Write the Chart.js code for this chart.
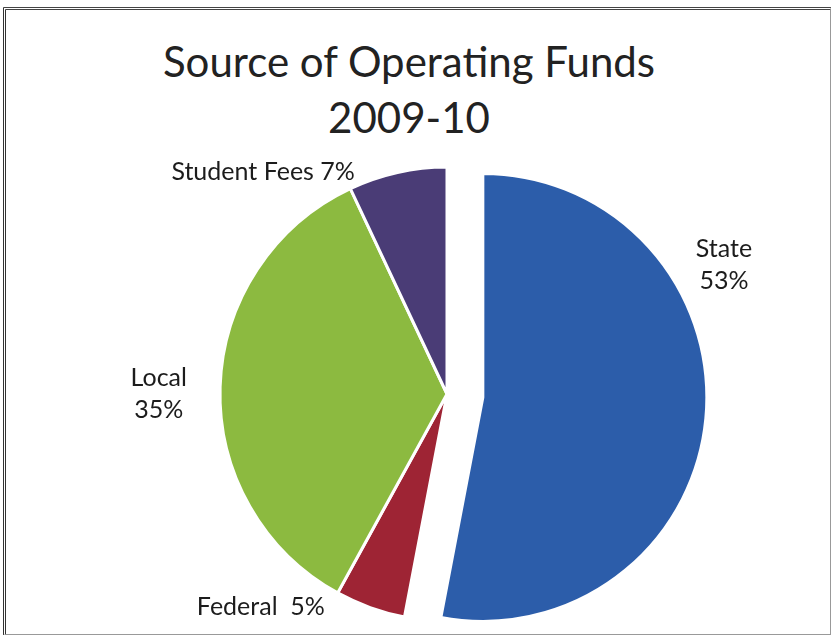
<!DOCTYPE html>
<html>
<head>
<meta charset="utf-8">
<script src="https://cdn.jsdelivr.net/npm/chart.js@4.4.1/dist/chart.umd.min.js"></script>
<style>
  html, body { margin: 0; padding: 0; background: #fff; }
  #wrap { position: relative; width: 833px; height: 639px; overflow: hidden; }
  #frame { position: absolute; left: 3px; top: 7px; width: 824px; height: 624px;
           border-left: 3px double #333; border-top: 3px double #444; border-right: 1px solid #999;
           border-bottom: 1px solid #999; }
  #title { position: absolute; left: 0; width: 818px; top: 33px; text-align: center;
           font-family: Lato, "Open Sans", sans-serif; font-size: 42px; line-height: 56px; color: #222; }
  canvas { position: absolute; left: 0; top: 0; }
</style>
</head>
<body>
<div id="wrap">
  <div id="frame"></div>
  <div id="title">Source of Operating Funds<br>2009-10</div>
  <canvas id="c" width="833" height="639"></canvas>
</div>
<script>
// 資料：百分比，從 12 點鐘方向順時針
const LABELS = ['State', 'Federal', 'Local', 'Student Fees']
const VALUES = [53, 5, 35, 7]
const COLORS = ['#2C5DAA', '#9E2434', '#8CBA40', '#4A3C76']

// State 往外拉的距離 (px)，拉出去的扇形在原圖裡半徑略小
const EXPLODE = 36
const PIE_RADIUS = 227
const STATE_RADIUS = 224

// 標籤位置（以圓心為原點、半徑為單位），跟 Excel 的 best fit 位置對齊
const LABEL_ANCHORS = [
  { dx: 1.22, dy: -0.57, lines: ['State', '53%'] },
  { dx: -0.82, dy: 0.94, lines: ['Federal  5%'] },
  { dx: -1.27, dy: 0.0, lines: ['Local', '35%'] },
  { dx: -0.81, dy: -0.98, lines: ['Student Fees 7%'] },
]

// v4 的 offset 會把 >=180° 的扇形放大又縮角度，所以不用它，
// 直接沿著扇形中線把 State 的圓心往外推
const explodeState = {
  id: 'explodeState',
  beforeDatasetsDraw(chart) {
    const meta = chart.getDatasetMeta(0)
    const arc = meta.data[0]
    const ref = meta.data[1]
    if (!arc || !ref) return
    const mid = (arc.startAngle + arc.endAngle) / 2
    arc.x = ref.x + Math.cos(mid) * EXPLODE
    arc.y = ref.y + Math.sin(mid) * EXPLODE
    arc.outerRadius = STATE_RADIUS
  },
}

const outsideLabels = {
  id: 'outsideLabels',
  afterDatasetsDraw(chart) {
    const meta = chart.getDatasetMeta(0)
    const arc = meta.data[1]
    if (!arc) return
    const { x, y } = arc
    const outerRadius = meta.controller.outerRadius
    const ctx = chart.ctx
    ctx.save()
    ctx.font = '25px Lato, "Open Sans", sans-serif'
    ctx.fillStyle = '#1c1c1c'
    ctx.textAlign = 'center'
    ctx.textBaseline = 'middle'
    LABEL_ANCHORS.forEach(a => {
      const cx = x + a.dx * outerRadius
      const cy = y + a.dy * outerRadius
      const lh = 32
      a.lines.forEach((t, i) => {
        ctx.fillText(t, cx, cy + (i - (a.lines.length - 1) / 2) * lh)
      })
    })
    ctx.restore()
  },
}

new Chart(document.getElementById('c'), {
  type: 'pie',
  data: {
    labels: LABELS,
    datasets: [{
      data: VALUES,
      backgroundColor: COLORS,
      borderColor: '#fff',
      borderWidth: 3,
    }],
  },
  options: {
    responsive: false,
    animation: false,
    radius: PIE_RADIUS,
    layout: { padding: { left: 61, right: 0, top: 149, bottom: 0 } },
    plugins: {
      legend: { display: false },
      tooltip: { enabled: false },
    },
  },
  plugins: [explodeState, outsideLabels],
})
</script>
</body>
</html>
